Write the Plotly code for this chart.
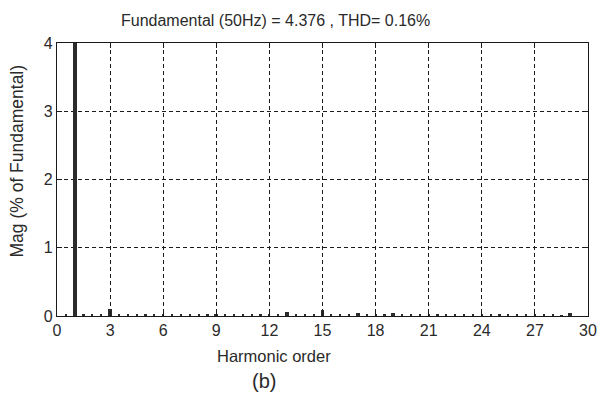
import plotly.graph_objects as go

# Harmonic orders (half-harmonic resolution, 25 Hz bins)
harmonic_order = [i * 0.5 for i in range(1, 60)]  # 0.5 .. 29.5

# Magnitudes (% of fundamental)
mag_pct = [
    0.02, 100.0, 0.02, 0.02, 0.02, 0.10, 0.02, 0.02, 0.02, 0.02,   # 0.5 .. 5
    0.02, 0.02, 0.02, 0.02, 0.02, 0.02, 0.02, 0.03, 0.02, 0.02,   # 5.5 .. 10
    0.02, 0.02, 0.02, 0.02, 0.02, 0.065, 0.02, 0.02, 0.02, 0.09,  # 10.5 .. 15
    0.02, 0.02, 0.02, 0.04, 0.02, 0.02, 0.02, 0.04, 0.02, 0.02,   # 15.5 .. 20
    0.02, 0.02, 0.02, 0.02, 0.02, 0.02, 0.02, 0.02, 0.02, 0.035,  # 20.5 .. 25
    0.02, 0.02, 0.02, 0.025, 0.02, 0.02, 0.01, 0.04, 0.0,         # 25.5 .. 29.5
]

x_ticks = [0, 3, 6, 9, 12, 15, 18, 21, 24, 27, 30]
y_ticks = [0, 1, 2, 3, 4]

title_text = "Fundamental (50Hz) = 4.376 , THD= 0.16%"
x_title = "Harmonic order"
y_title = "Mag (% of Fundamental)"
caption = "(b)"

FONT = "Liberation Sans, Arial, sans-serif"
TXT = "#2a2a2a"

widths = [0.22 if v > 0.025 else 0.12 for v in mag_pct]

fig = go.Figure(
    go.Bar(
        x=harmonic_order,
        y=mag_pct,
        width=widths,
        marker=dict(color="#2b2b2b", line=dict(width=0)),
        showlegend=False,
    )
)

axis_common = dict(
    showline=True,
    linecolor="#1a1a1a",
    linewidth=1.3,
    mirror="ticks",
    ticks="inside",
    ticklen=5,
    tickcolor="#1a1a1a",
    showgrid=True,
    gridcolor="#1a1a1a",
    gridwidth=1,
    griddash="4px,3px",
    zeroline=False,
    tickfont=dict(family=FONT, size=16, color=TXT),
)

fig.update_xaxes(
    range=[0, 30],
    tickvals=x_ticks,
    ticktext=[str(t) for t in x_ticks],
    **axis_common,
)
fig.update_yaxes(
    range=[0, 4],
    tickvals=y_ticks,
    ticktext=[str(t) for t in y_ticks],
    **axis_common,
)

# page body has an 8px margin, so the figure is sized 600x391
fig.update_layout(
    width=600,
    height=391,
    margin=dict(l=49, r=11, t=35, b=83),
    paper_bgcolor="white",
    plot_bgcolor="white",
    bargap=0,
    annotations=[
        dict(text=title_text, xref="paper", yref="paper", x=0.411, y=1.0,
             yshift=23, xanchor="center", yanchor="middle", showarrow=False,
             font=dict(family=FONT, size=16, color=TXT)),
        dict(text=x_title, xref="paper", yref="paper", x=0.409, y=0,
             yshift=-40, xanchor="center", yanchor="middle", showarrow=False,
             font=dict(family=FONT, size=16.5, color=TXT)),
        dict(text=caption, xref="paper", yref="paper", x=0.39, y=0,
             yshift=-65, xanchor="center", yanchor="middle", showarrow=False,
             font=dict(family=FONT, size=20, color=TXT)),
        dict(text=y_title, xref="paper", yref="paper", x=0, y=0.5,
             xshift=-41, yshift=18, xanchor="center", yanchor="middle",
             textangle=-90, showarrow=False,
             font=dict(family=FONT, size=17.5, color=TXT)),
    ],
)

fig.write_html("out.html")
